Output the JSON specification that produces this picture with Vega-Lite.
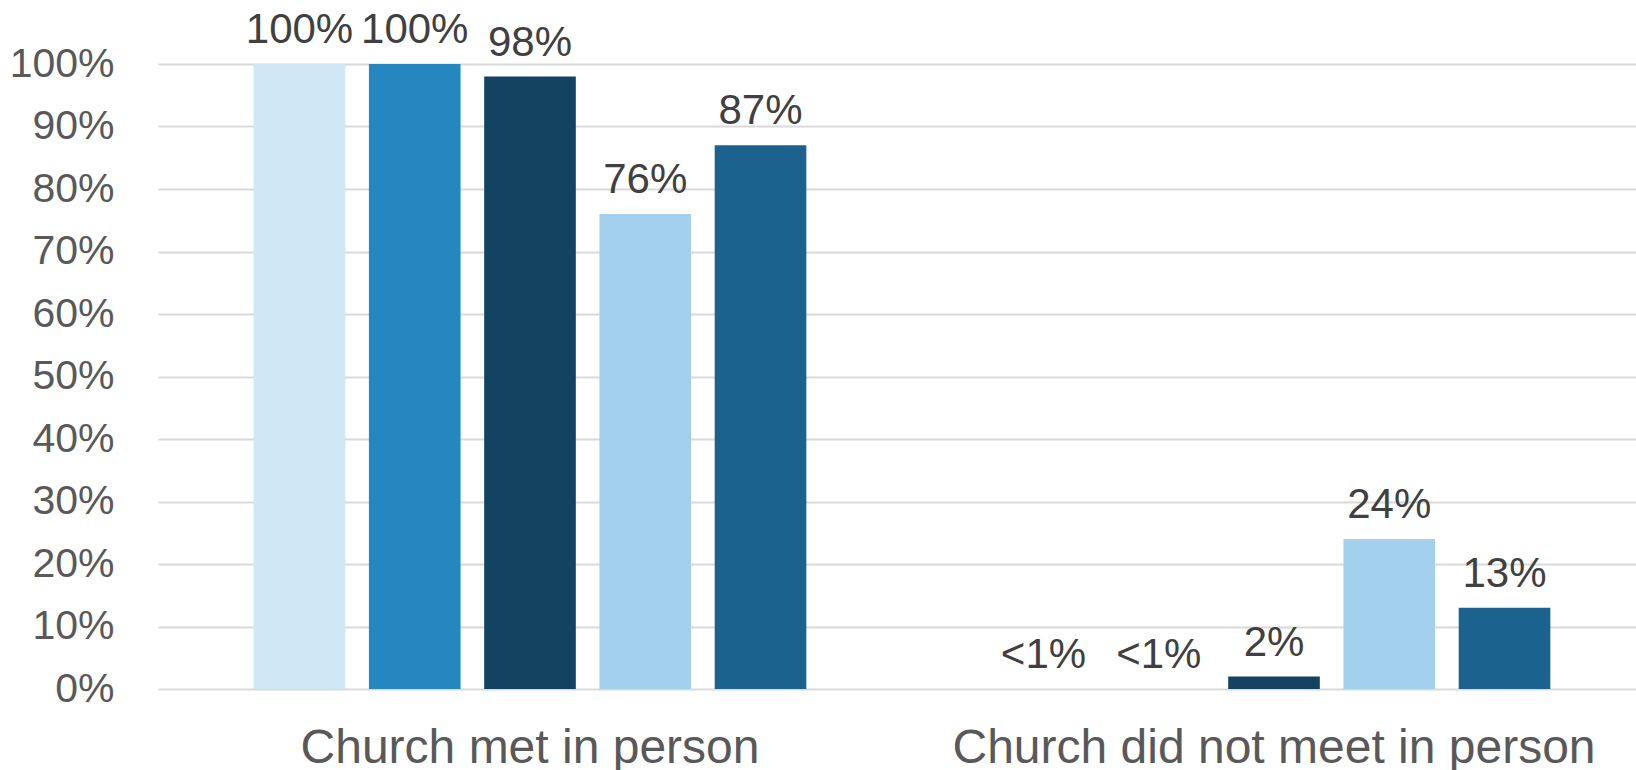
{
  "$schema": "https://vega.github.io/schema/vega-lite/v6.json",
  "width": 1478,
  "height": 625,
  "autosize": {"type": "none"},
  "padding": {"left": 158, "top": 64, "right": 0, "bottom": 81},
  "background": "white",
  "config": {
    "view": {"stroke": null},
    "font": "Liberation Sans"
  },
  "data": {
    "values": [
      {"category": "Church met in person", "series": "Series 1", "value": 100, "label": "100%"},
      {"category": "Church met in person", "series": "Series 2", "value": 100, "label": "100%"},
      {"category": "Church met in person", "series": "Series 3", "value": 98, "label": "98%"},
      {"category": "Church met in person", "series": "Series 4", "value": 76, "label": "76%"},
      {"category": "Church met in person", "series": "Series 5", "value": 87, "label": "87%"},
      {"category": "Church did not meet in person", "series": "Series 1", "value": 0, "label": "<1%"},
      {"category": "Church did not meet in person", "series": "Series 2", "value": 0, "label": "<1%"},
      {"category": "Church did not meet in person", "series": "Series 3", "value": 2, "label": "2%"},
      {"category": "Church did not meet in person", "series": "Series 4", "value": 24, "label": "24%"},
      {"category": "Church did not meet in person", "series": "Series 5", "value": 13, "label": "13%"}
    ]
  },
  "encoding": {
    "x": {
      "field": "category",
      "type": "nominal",
      "sort": ["Church met in person", "Church did not meet in person"],
      "scale": {"paddingInner": 0, "paddingOuter": 0, "range": [0, 1488]},
      "axis": {
        "title": null,
        "labelAngle": 0,
        "labelFontSize": 48,
        "labelColor": "#595959",
        "labelPadding": 35,
        "labelLimit": 1000,
        "ticks": false,
        "domain": false,
        "grid": false
      }
    },
    "xOffset": {
      "field": "series",
      "type": "nominal",
      "scale": {"paddingInner": 0.205, "paddingOuter": 0.83}
    },
    "y": {
      "field": "value",
      "type": "quantitative",
      "scale": {"domain": [0, 100]},
      "axis": {
        "title": null,
        "values": [0, 10, 20, 30, 40, 50, 60, 70, 80, 90, 100],
        "labelExpr": "datum.value + '%'",
        "labelFontSize": 41,
        "labelColor": "#595959",
        "labelPadding": 44,
        "ticks": false,
        "domain": false,
        "gridColor": "#d9d9d9",
        "gridWidth": 2
      }
    }
  },
  "layer": [
    {
      "mark": {"type": "bar"},
      "encoding": {
        "color": {
          "field": "series",
          "type": "nominal",
          "scale": {
            "domain": ["Series 1", "Series 2", "Series 3", "Series 4", "Series 5"],
            "range": ["#d0e7f5", "#2586c0", "#144362", "#a3d0ed", "#1c628e"]
          },
          "legend": null
        }
      }
    },
    {
      "mark": {"type": "text", "baseline": "bottom", "dy": -12, "fontSize": 42, "color": "#404040"},
      "encoding": {
        "text": {"field": "label", "type": "nominal"}
      }
    }
  ]
}
